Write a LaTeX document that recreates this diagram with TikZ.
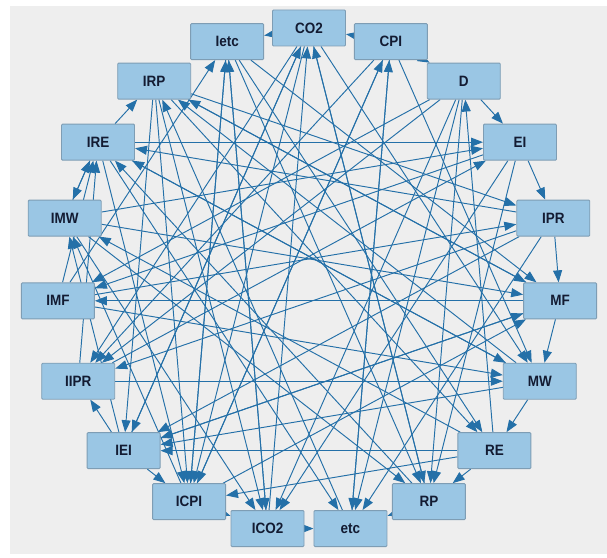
\documentclass[tikz,border=0pt]{standalone}
\usepackage{fontspec}
\usetikzlibrary{arrows.meta}
\newfontfamily\boxfont{Liberation Sans}[FakeStretch=0.9]
\definecolor{boxfill}{HTML}{9AC6E4}
\definecolor{boxline}{HTML}{7E9DB4}
\definecolor{linkblue}{HTML}{2470A8}
\definecolor{panel}{HTML}{EEEEEE}
\definecolor{boxtext}{HTML}{131B32}
\pgfdeclarelayer{back}
\pgfsetlayers{back,main}
\begin{document}
\begin{tikzpicture}[x=1pt, y=1pt,
	var/.style={rectangle, draw=boxline, fill=boxfill, line width=0.9pt, rounded corners=1pt,
		minimum width=73pt, minimum height=36pt, inner sep=0pt,
		font=\boxfont\bfseries\fontsize{15}{16}\selectfont, text=boxtext},
	link/.style={linkblue, line width=0.95pt, -{Triangle[length=12pt, width=9pt]}}]
	\useasboundingbox (0,0) rectangle (607,557);
	\begin{pgfonlayer}{back}
		\fill[panel] (10,3) rectangle (607,551);
	\end{pgfonlayer}
	
	%variables on a circle, clockwise from the top
	\foreach \name [count=\i from 0] in {CO2,CPI,D,EI,IPR,MF,MW,RE,RP,etc,ICO2,ICPI,IEI,IIPR,IMF,IMW,IRE,IRP,Ietc}{
		\node[var] (\name) at ({309+252*cos(90-\i*360/19)}, {277+252*sin(90-\i*360/19)}) {\name};
	}
	
	%links
	\begin{pgfonlayer}{back}
		\foreach \s/\t in {CO2/Ietc, IMF/Ietc, ICPI/Ietc, ICO2/Ietc,
			CPI/CO2, IEI/CO2, ICO2/CO2, RP/CO2,
			ICPI/CPI, etc/CPI,
			CPI/D, RE/D,
			IRE/EI, IMW/EI, D/EI, IIPR/EI,
			EI/IPR, IRP/IPR, IMF/IPR,
			IPR/MF, Ietc/MF, IRP/MF, IEI/MF, ICPI/MF, IMW/MF,
			MF/MW, CO2/MW, CPI/MW, IRE/MW, IIPR/MW, IMF/MW,
			MW/RE, IRP/RE, Ietc/RE,
			RE/RP, D/RP, EI/RP, CO2/RP, IMW/RP, Ietc/RP,
			RP/etc, ICO2/etc, IRE/etc, D/etc, IPR/etc, CPI/etc,
			ICPI/ICO2, IRP/ICO2, Ietc/ICO2, IMW/ICO2, EI/ICO2, D/ICO2,
			IEI/ICPI, IRP/ICPI, IRE/ICPI, CO2/ICPI, Ietc/ICPI, RE/ICPI, CPI/ICPI,
			RE/IEI, MW/IEI, MF/IEI, IPR/IEI, IRP/IEI, CO2/IEI,
			IEI/IIPR, CPI/IIPR, CO2/IIPR, D/IIPR, IPR/IIPR,
			MF/IMF, D/IMF, EI/IMF,
			IRE/IMW, IEI/IMW, ICPI/IMW, RE/IMW,
			IPR/IRE, IMW/IRE, IIPR/IRE, IMF/IRE, MW/IRE, RP/IRE,
			IRE/IRP, MW/IRP, MF/IRP, etc/IRP}{
			\draw[link] (\s) -- (\t);
		}
	\end{pgfonlayer}
\end{tikzpicture}
\end{document}
